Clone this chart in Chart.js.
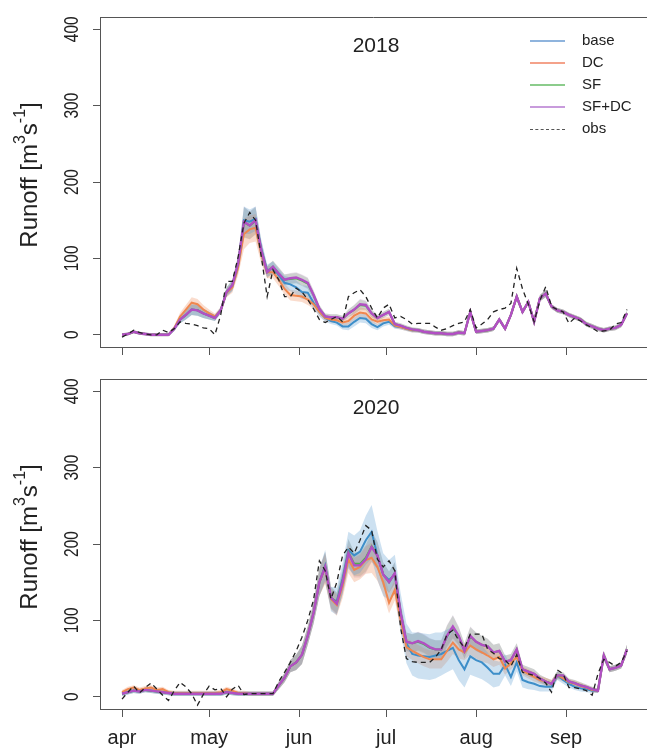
<!DOCTYPE html>
<html>
<head>
<meta charset="utf-8">
<script src="https://cdn.jsdelivr.net/npm/chart.js@4.4.0/dist/chart.umd.min.js"></script>
<style>
html, body { margin: 0; padding: 0; background: #fff; }
body { width: 647px; height: 752px; position: relative; overflow: hidden; font-family: "Liberation Sans", Arial, sans-serif; }
.panel { position: absolute; left: 0; width: 647px; }
#p2018 { top: 0; height: 362px; }
#p2020 { top: 362px; height: 390px; }
#legend { position: absolute; left: 530px; top: 29px; font-size: 15px; color: #222; z-index: 2; }
#legend div { height: 22px; line-height: 22px; white-space: nowrap; }
#legend .ln { display: inline-block; width: 35px; height: 0; margin-right: 17px; vertical-align: middle; }
</style>
</head>
<body>
<div class="panel" id="p2018"><canvas id="c2018" width="647" height="362"></canvas></div>
<div class="panel" id="p2020"><canvas id="c2020" width="647" height="390"></canvas></div>
<div id="legend">
  <div><span class="ln" style="border-top:2px solid #8fb4dd"></span>base</div>
  <div><span class="ln" style="border-top:2px solid #f4a28a"></span>DC</div>
  <div><span class="ln" style="border-top:2px solid #8ccc8c"></span>SF</div>
  <div><span class="ln" style="border-top:2px solid #c89bdc"></span>SF+DC</div>
  <div><span class="ln" style="border-top:1.5px dashed #555"></span>obs</div>
</div>
<script>
// Axis ticks (x = days since 1 April)
const monthDays = [0, 30, 61, 91, 122, 153];
const monthLabels = ['apr', 'may', 'jun', 'jul', 'aug', 'sep'];
const yTicks = [0, 100, 200, 300, 400];

// Sampling days, every second day
const days = [0,2,4,6,8,10,12,14,16,18,20,22,24,26,28,30,32,34,36,38,
  40,42,44,46,48,50,52,54,56,58,60,62,64,66,68,70,72,74,76,78,
  80,82,84,86,88,90,92,94,96,98,100,102,104,106,108,110,112,114,116,118,
  120,122,124,126,128,130,132,134,136,138,140,142,144,146,148,150,152,154,156,158,
  160,162,164,166,168,170,172,174];

// ---- 2018 ----
const obs2018 = [-3,1,6,3,1,0,0,6,3,8, 17,15,14,12,9,8,0,26,70,70,
  102,146,160,150,102,50,85,72,50,50, 61,56,46,34,20,16,20,24,17,50,
  55,59,50,35,22,35,40,22,24,20, 14,15,15,15,10,6,8,12,15,17,
  33,9,14,20,30,33,35,41,87,60, 40,17,45,63,37,33,30,15,22,18,
  13,9,4,5,6,14,16,33];
const sfdc2018 = [0,1,4,2,1,0,0,0,0,8, 20,26,33,32,28,25,22,32,56,65,
  94,148,143,150,110,82,89,80,72,74, 75,72,68,52,34,24,23,23,21,28,
  33,40,39,28,22,26,30,14,12,9, 7,6,4,3,2,2,1,1,3,2,
  30,4,5,6,8,20,8,26,50,30, 43,17,48,54,37,32,30,26,23,20,
  14,11,8,6,8,9,13,28];
// SF is hidden under SF+DC in the figure
const sf2018 = [0,1,4,2,1,0,0,0,0,8, 20,26,33,32,28,25,22,32,56,65,
  93,147,143,149,110,82,89,80,72,73, 74,71,67,52,34,24,23,23,21,28,
  33,39,38,28,22,26,30,14,12,9, 7,6,4,3,2,2,1,1,3,2,
  30,4,5,6,8,20,8,26,50,30, 43,17,48,54,37,32,30,26,23,20,
  14,11,8,6,8,9,13,28];
const base2018 = [0,1,4,2,1,0,0,0,0,8, 20,26,33,32,28,25,22,32,56,64,
  92,150,148,152,112,84,88,78,68,66, 62,56,55,42,30,22,18,16,11,11,
  17,22,21,14,10,15,17,11,10,8, 6,6,4,3,2,2,1,1,3,2,
  30,4,5,6,8,20,8,26,50,30, 43,17,48,54,37,32,30,26,23,20,
  14,11,8,6,8,9,13,28];
const dc2018 = [0,1,4,2,1,0,0,0,0,9, 24,33,42,40,33,28,24,32,55,62,
  88,132,138,140,105,82,82,72,60,52, 51,50,46,40,30,22,20,19,16,18,
  25,29,28,20,17,19,20,12,10,8, 6,6,4,3,2,2,1,1,3,2,
  30,4,5,6,8,20,8,26,50,30, 43,17,48,54,37,32,30,26,23,20,
  14,11,8,6,8,9,13,28];
const spread2018 = [2,2,2,2,2,2,2,2,2,3, 5,6,7,7,6,5,4,4,6,7,
  10,20,18,18,12,8,8,8,7,7, 7,7,7,6,5,4,4,4,4,5,
  6,7,6,5,4,4,4,3,3,3, 3,3,3,3,3,3,3,3,3,3,
  3,3,3,3,3,3,3,3,5,3, 3,3,4,5,3,3,3,3,3,3,
  3,3,3,3,3,3,3,3];
const spreadBase2018 = [2,2,2,2,2,2,2,2,2,3, 5,6,7,7,6,5,4,4,6,7,
  10,18,16,16,12,8,8,8,9,9, 9,9,9,8,6,5,4,4,4,5,
  6,6,6,5,4,4,4,3,3,3, 3,3,3,3,3,3,3,3,3,3,
  3,3,3,3,3,3,3,3,5,3, 3,3,4,5,3,3,3,3,3,3,
  3,3,3,3,3,3,3,3];

// ---- 2020 ----
const obs2020 = [-3,6,14,5,12,18,10,2,-5,8, 19,13,4,-11,3,14,9,11,0,10,
  15,3,4,4,4,4,4,20,32,45, 60,78,100,127,178,165,128,150,185,196,
  188,205,224,218,180,170,178,165,90,50, 46,45,45,45,52,62,82,87,74,64,
  82,82,82,62,57,50,48,40,55,32, 30,28,24,18,6,35,30,12,12,10,
  8,2,30,49,45,40,45,60];
const sfdc2020 = [4,6,8,7,9,8,7,6,5,4, 4,4,4,4,4,4,4,4,6,5,
  4,4,4,4,4,4,4,15,25,40, 45,55,80,110,150,170,130,122,150,188,
  172,172,180,196,185,160,150,162,110,72, 70,73,70,65,62,62,80,92,80,60,
  80,72,68,66,58,60,46,48,62,36, 33,30,24,20,17,28,28,20,18,15,
  13,10,8,54,36,38,41,62];
// SF is hidden under SF+DC in the figure
const sf2020 = [4,6,8,7,9,8,7,6,5,4, 4,4,4,4,4,4,4,4,6,5,
  4,4,4,4,4,4,4,15,25,40, 45,55,80,110,150,170,130,123,151,189,
  174,174,182,197,185,160,150,162,110,72, 70,72,69,64,62,62,79,91,79,60,
  79,72,68,66,58,60,46,48,62,36, 33,30,24,20,17,28,28,20,18,15,
  13,10,8,54,36,38,41,62];
const base2020 = [4,6,8,7,9,8,7,6,5,4, 4,4,4,4,4,4,4,4,6,5,
  4,4,4,4,4,4,4,15,25,40, 45,55,80,110,150,172,128,125,155,192,
  185,190,205,216,185,160,153,160,110,70, 56,54,53,52,54,56,60,64,48,36,
  53,48,45,38,30,30,42,26,45,22, 19,17,14,13,13,28,22,17,13,11,
  10,8,8,54,36,38,41,62];
const dc2020 = [6,10,12,9,11,12,9,10,6,5, 5,5,5,5,5,5,5,6,10,8,
  5,5,4,4,4,4,4,15,25,40, 45,55,80,110,150,168,128,120,145,180,
  166,170,179,182,170,150,123,140,100,65, 60,56,52,49,49,49,60,71,62,58,
  67,62,58,54,49,52,37,44,52,34, 30,26,22,20,17,28,24,19,17,14,
  12,9,8,54,36,38,41,62];
const spread2020 = [3,3,3,3,3,3,3,3,3,3, 3,3,3,3,3,3,3,3,3,3,
  3,3,3,3,3,3,3,5,6,8, 10,12,12,14,18,20,14,14,16,18,
  16,16,18,20,18,16,14,14,12,12, 12,12,12,12,12,12,14,15,12,10,
  12,12,12,10,10,10,8,8,8,6, 6,6,5,5,5,5,4,4,4,4,
  3,3,3,6,4,4,4,6];
const spreadBase2020 = [3,3,3,3,3,3,3,3,3,3, 3,3,3,3,3,3,3,3,3,3,
  3,3,3,3,3,3,3,5,6,8, 10,12,12,14,18,20,16,18,20,24,
  26,28,32,35,32,28,26,26,26,26, 28,30,30,30,30,28,28,28,26,24,
  24,22,22,20,18,16,14,12,12,10, 9,8,7,6,6,6,5,5,4,4,
  4,3,3,6,4,4,4,6];

const FONT = '"Liberation Sans", Arial, Helvetica, sans-serif';
Chart.defaults.font.family = FONT;

function pts(vals, off, sign) {
  return days.map((d, i) => ({ x: d, y: vals[i] + (off ? sign * off[i] : 0) }));
}

function band(vals, spread, color) {
  return [
    { data: pts(vals, spread, -1), borderWidth: 0, pointRadius: 0, fill: false, order: 20 },
    { data: pts(vals, spread, 1), borderWidth: 0, pointRadius: 0, fill: '-1', backgroundColor: color, order: 20 }
  ];
}

function line(vals, color, width, order, dash) {
  return { data: pts(vals), borderColor: color, borderWidth: width, borderDash: dash || [],
    pointRadius: 0, fill: false, order: order };
}

// frame top, rotated y labels, y title and year
const decor = {
  id: 'decor',
  afterDraw(chart, args, o) {
    const { ctx, chartArea: a } = chart;
    const y = chart.scales.y;
    ctx.save();
    ctx.strokeStyle = '#555';
    ctx.lineWidth = 1;
    ctx.beginPath();
    ctx.moveTo(a.left, a.top + 0.5);
    ctx.lineTo(a.right, a.top + 0.5);
    ctx.stroke();

    ctx.fillStyle = '#222';
    ctx.textAlign = 'center';
    ctx.textBaseline = 'middle';
    ctx.font = '15.5px ' + FONT;
    yTicks.forEach(v => {
      ctx.save();
      ctx.translate(73, y.getPixelForValue(v));
      ctx.scale(1.25, 1);
      ctx.rotate(-Math.PI / 2);
      ctx.fillText(String(v), 0, 0);
      ctx.restore();
    });

    // Runoff [m3 s-1]
    const big = '24px ' + FONT, small = '16px ' + FONT;
    const parts = [['Runoff [m', big, 0], ['3', small, -9], ['s', big, 0], ['-1', small, -9], [']', big, 0]];
    let total = 0;
    parts.forEach(p => { ctx.font = p[1]; total += ctx.measureText(p[0]).width; });
    ctx.save();
    ctx.translate(30, a.top + 158);
    ctx.rotate(-Math.PI / 2);
    ctx.textAlign = 'left';
    let pos = -total / 2;
    parts.forEach(p => {
      ctx.font = p[1];
      ctx.fillText(p[0], pos, p[2]);
      pos += ctx.measureText(p[0]).width;
    });
    ctx.restore();

    ctx.font = '21px ' + FONT;
    ctx.fillText(o.year, 376, a.top + 29);
    ctx.restore();
  }
};

function makeChart(id, year, d, showX, xAxisH) {
  const datasets = [].concat(
    band(d.base, d.spreadBase, 'rgba(90,155,210,0.30)'),
    band(d.dc, d.spread, 'rgba(240,140,90,0.30)'),
    band(d.sf, d.spread, 'rgba(110,160,110,0.22)'),
    band(d.sfdc, d.spread, 'rgba(150,100,160,0.22)'),
    [
      line(d.base, '#3d8ec9', 2, 6),
      line(d.dc, '#f0874f', 2, 5),
      line(d.sf, '#4daf4a', 2, 4),
      line(d.sfdc, '#b24fc4', 2.4, 3),
      line(d.obs, '#222', 1.3, 1, [5, 4])
    ]
  );
  return new Chart(document.getElementById(id), {
    type: 'line',
    data: { datasets: datasets },
    options: {
      responsive: false,
      animation: false,
      devicePixelRatio: 1,
      layout: { padding: { top: 17, left: 0, right: 0, bottom: 0 } },
      plugins: { legend: { display: false }, tooltip: { enabled: false }, decor: { year: year } },
      scales: {
        x: {
          type: 'linear', min: -7.6, max: 180.9,
          afterBuildTicks: s => { s.ticks = monthDays.map(v => ({ value: v })); },
          afterFit: s => { s.height = xAxisH; },
          ticks: { display: showX, autoSkip: false, maxRotation: 0, minRotation: 0, padding: 9,
            color: '#222', font: { size: 20 }, callback: (v, i) => monthLabels[i] },
          grid: { drawOnChartArea: false, drawTicks: true, tickLength: 8, color: '#555' },
          border: { display: true, color: '#555', width: 1 }
        },
        y: {
          min: -16, max: 416,
          afterBuildTicks: s => { s.ticks = yTicks.map(v => ({ value: v })); },
          afterFit: s => { s.width = 100; },
          ticks: { display: false },
          grid: { drawOnChartArea: false, drawTicks: true, tickLength: 7, color: '#555' },
          border: { display: true, color: '#555', width: 1 }
        }
      }
    },
    plugins: [decor]
  });
}

makeChart('c2018', '2018', { obs: obs2018, base: base2018, dc: dc2018, sf: sf2018, sfdc: sfdc2018,
  spread: spread2018, spreadBase: spreadBase2018 }, false, 15);
makeChart('c2020', '2020', { obs: obs2020, base: base2020, dc: dc2020, sf: sf2020, sfdc: sfdc2020,
  spread: spread2020, spreadBase: spreadBase2020 }, true, 43);
</script>
</body>
</html>
